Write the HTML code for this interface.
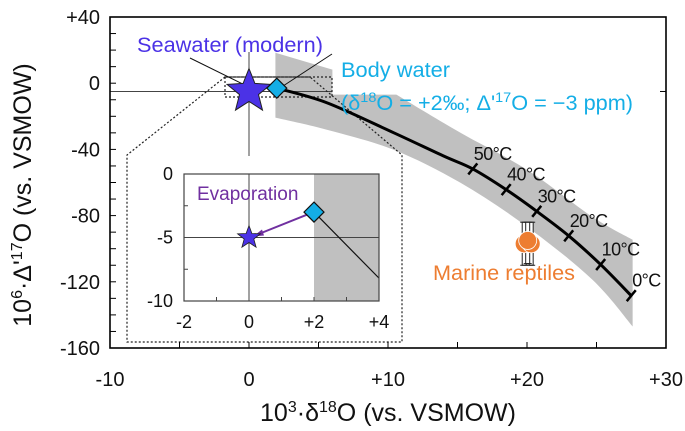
<!DOCTYPE html>
<html><head><meta charset="utf-8">
<style>
html,body{margin:0;padding:0;background:#fff;}
svg{display:block;font-family:"Liberation Sans",Arial,sans-serif;}
</style></head>
<body>
<svg id="chart" width="685" height="431" viewBox="0 0 685 431" xmlns="http://www.w3.org/2000/svg" style="position:absolute;left:0;top:0"></svg>
<script>
// ---- data ----
const xTicks = [-10, 0, 10, 20, 30];
const xTickLabels = ["-10", "0", "+10", "+20", "+30"];
const yTicks = [40, 0, -40, -80, -120, -160];
const yTickLabels = ["+40", "0", "-40", "-80", "-120", "-160"];
const curveX = [2, 5.6, 10.4, 14, 16.1, 18.5, 20.7, 23, 25.3, 27.5];
const curveY = [-3, -11.8, -29.9, -44, -51.8, -64.3, -77.4, -92.2, -109.6, -128.4];
const tempLabels = ["50°C", "40°C", "30°C", "20°C", "10°C", "0°C"];
const tempX = [16.1, 18.5, 20.7, 23, 25.3, 27.5];
const tempY = [-51.8, -64.3, -77.4, -92.2, -109.6, -128.4];
const bandUpperX = [1.9, 6, 6, 10.6, 15.2, 20.0, 24.7, 27.6];
const bandUpperY = [18.4, 8.2, -6.9, -6.9, -29.9, -52.3, -80.7, -94.6];
const bandLowerX = [27.6, 24.7, 20.0, 15.2, 10.4, 5.6, 1.9];
const bandLowerY = [-147, -118.7, -86.7, -60.1, -40.2, -28.1, -20.8];
const seawater = [0, -5];
const bodyWater = [2, -3];
const reptileX = [19.8, 20.3, 20.05];
const reptileY = [-97, -97, -95];
const reptileErrLo = [-110, -110, -109];
const reptileErrHi = [-84, -84, -84];
const insetXTicks = [-2, 0, 2, 4];
const insetXTickLabels = ["-2", "0", "+2", "+4"];
const insetYTicks = [0, -5, -10];
const insetYTickLabels = ["0", "-5", "-10"];

const NS = "http://www.w3.org/2000/svg";
const svg = document.getElementById("chart");
function mk(tag, attrs, parent) {
  const e = document.createElementNS(NS, tag);
  for (const k in attrs) e.setAttribute(k, attrs[k]);
  (parent || svg).appendChild(e);
  return e;
}
const L = 110, R = 666, T = 17, B = 348;
const X = v => L + (v + 10) / 40 * (R - L);
const Y = v => T + (40 - v) / 200 * (B - T);
const iL = 184, iR = 379, iT = 174, iB = 301;
const IX = v => iL + (v + 2) / 6 * (iR - iL);
const IY = v => iT + (0 - v) / 10 * (iB - iT);

function star(cx, cy, ro, ri) {
  let p = [];
  for (let i = 0; i < 10; i++) {
    const r = i % 2 ? ri : ro, a = -Math.PI / 2 + i * Math.PI / 5;
    p.push((cx + r * Math.cos(a)).toFixed(1) + "," + (cy + r * Math.sin(a)).toFixed(1));
  }
  return p.join(" ");
}
function smoothPath(pts) {
  let d = "M" + pts[0][0] + "," + pts[0][1];
  for (let i = 0; i < pts.length - 1; i++) {
    const p0 = pts[i - 1] || pts[i], p1 = pts[i], p2 = pts[i + 1], p3 = pts[i + 2] || p2;
    const c1 = [p1[0] + (p2[0] - p0[0]) / 6, p1[1] + (p2[1] - p0[1]) / 6];
    const c2 = [p2[0] - (p3[0] - p1[0]) / 6, p2[1] - (p3[1] - p1[1]) / 6];
    d += ` C${c1[0]},${c1[1]} ${c2[0]},${c2[1]} ${p2[0]},${p2[1]}`;
  }
  return d;
}

let up = bandUpperX.map((x, i) => [X(x), Y(bandUpperY[i])]);
let lo = bandLowerX.map((x, i) => [X(x), Y(bandLowerY[i])]);
let d = "M" + up[0].join(",") + " L" + up[1].join(",") + " L" + up[2].join(",") + " ";
d += smoothPath(up.slice(3)).replace(/^M/, "L");
d += " L" + lo[0].join(",") + " " + smoothPath(lo).replace(/^M[^C]*/, "") + " Z";
let band = mk("path", {d: d, fill: "#c0c0c0"});



let hl = mk("line", {x1: L, x2: X(6), y1: Y(seawater[1]), y2: Y(seawater[1]), stroke: "#444", "stroke-width": 1});


let vl = mk("line", {x1: X(0), x2: X(0), y1: 52, y2: 157, stroke: "#444", "stroke-width": 1});



let zb = mk("rect", {x: 225, y: 77, width: 107, height: 20, fill: "none", stroke: "#222", "stroke-width": 1.2, "stroke-dasharray": "2,2"});


let zc = mk("polyline", {points: "225,77 127,155 127,342 402,342 402,155 310,77 225,77", fill: "none", stroke: "#222", "stroke-width": 1.2, "stroke-dasharray": "2,2"});


let ibg = mk("rect", {x: 128, y: 156, width: 273, height: 185, fill: "#fff"});



let cpts = curveX.map((x, i) => [X(x), Y(curveY[i])]);
let curve = mk("path", {d: smoothPath(cpts), fill: "none", stroke: "#000", "stroke-width": 3, "stroke-linejoin": "round"});


tempX.forEach((t, i) => {
  const cx = X(t), cy = Y(tempY[i]);
  let tk = mk("line", {x1: cx - 4.5, y1: cy + 5.5, x2: cx + 4.5, y2: cy - 5.5, stroke: "#000", "stroke-width": 2.5});
  
  
  let tl = mk("text", {x: cx + 1, y: cy - 9, "font-size": 18, fill: "#111", "letter-spacing": "-0.6"});
  tl.textContent = tempLabels[i];
  
  
});

reptileX.forEach((x, i) => {
  const cx = X(x);
  let eb = mk("rect", {x: cx - 2, y: Y(reptileErrHi[i]), width: 4, height: Y(reptileErrLo[i]) - Y(reptileErrHi[i]), fill: "#fff", stroke: "#222", "stroke-width": 1});
  
  
  mk("line", {x1: cx - 4, x2: cx + 4, y1: Y(reptileErrHi[i]), y2: Y(reptileErrHi[i]), stroke: "#222"});
  mk("line", {x1: cx - 4, x2: cx + 4, y1: Y(reptileErrLo[i]), y2: Y(reptileErrLo[i]), stroke: "#222"});
});
reptileX.forEach((x, i) => {
  let c = mk("circle", {cx: X(x), cy: Y(reptileY[i]), r: 9, fill: "#ed7d31", stroke: "#fff", "stroke-width": 0.8});
  
  
});

let l1 = mk("line", {x1: 190, y1: 58, x2: 255, y2: 90, stroke: "#111", "stroke-width": 1});


let l2 = mk("line", {x1: 332, y1: 54, x2: 280, y2: 88, stroke: "#111", "stroke-width": 1});



let st = mk("polygon", {points: star(X(seawater[0]), Y(seawater[1]), 23, 10), fill: "#4b32e6", stroke: "#222", "stroke-width": 1});


const dx = X(bodyWater[0]), dy = Y(bodyWater[1]);
let dm = mk("polygon", {points: `${dx},${dy-10} ${dx+10},${dy} ${dx},${dy+10} ${dx-10},${dy}`, fill: "#14aee6", stroke: "#111", "stroke-width": 1.2});



let fr = mk("rect", {x: L, y: T, width: R - L, height: B - T, fill: "none", stroke: "#000", "stroke-width": 1.6});


mk("line", {x1: R - 6, x2: R, y1: Y(-5), y2: Y(-5), stroke: "#000", "stroke-width": 1});
for (let v = -160; v <= 40; v += 10) {
  let t = mk("line", {x1: L, x2: L + 6, y1: Y(v), y2: Y(v), stroke: "#000", "stroke-width": 1});
  
  
}
for (let v = -10; v <= 30; v += 5) {
  let t = mk("line", {x1: X(v), x2: X(v), y1: B, y2: B - 6, stroke: "#000", "stroke-width": 1});
  
  
}
xTicks.forEach((v, i) => {
  let t = mk("text", {x: X(v), y: 386, "font-size": 20, "text-anchor": "middle", fill: "#111"});
  t.textContent = xTickLabels[i];
  
  
});
yTicks.forEach((v, i) => {
  let t = mk("text", {x: 100, y: Y(v) + 7, "font-size": 20, "text-anchor": "end", fill: "#111"});
  t.textContent = yTickLabels[i];
  
  
});

let ig = mk("rect", {x: IX(2), y: iT, width: iR - IX(2), height: iB - iT, fill: "#c0c0c0"});


mk("line", {x1: iL, x2: iR, y1: IY(-5), y2: IY(-5), stroke: "#444", "stroke-width": 1});
mk("line", {x1: IX(0), x2: IX(0), y1: iT, y2: iB, stroke: "#444", "stroke-width": 1});
let il = mk("line", {x1: IX(2), y1: IY(-3), x2: iR, y2: IY(-8.2), stroke: "#111", "stroke-width": 1.2});


let ifr = mk("rect", {x: iL, y: iT, width: iR - iL, height: iB - iT, fill: "none", stroke: "#444", "stroke-width": 1.2});


for (let v = -2; v <= 4; v++) mk("line", {x1: IX(v), x2: IX(v), y1: iB, y2: iB - 4, stroke: "#444"});
for (let v = 0; v >= -10; v -= 2.5) mk("line", {x1: iL, x2: iL + 4, y1: IY(v), y2: IY(v), stroke: "#444"});
insetXTicks.forEach((v, i) => {
  let t = mk("text", {x: IX(v), y: 328, "font-size": 18, "text-anchor": "middle", fill: "#111"});
  t.textContent = insetXTickLabels[i];
  
  
});
insetYTicks.forEach((v, i) => {
  let t = mk("text", {x: 173, y: IY(v) + 6, "font-size": 18, "text-anchor": "end", fill: "#111"});
  t.textContent = insetYTickLabels[i];
  
  
});
let ar = mk("line", {x1: IX(2) - 3, y1: IY(-3) + 1, x2: IX(0) + 6, y2: IY(-5) - 2, stroke: "#7030a0", "stroke-width": 2});


const ax = IX(0) + 4, ay = IY(-5) - 1;
mk("polygon", {points: `${ax},${ay} ${ax+9},${ay-7} ${ax+11},${ay-1}`, fill: "#7030a0"});
let ist = mk("polygon", {points: star(IX(0), IY(-5), 12, 5), fill: "#4b32e6", stroke: "#222", "stroke-width": 0.8});


const ix2 = IX(2), iy2 = IY(-3);
let idm = mk("polygon", {points: `${ix2},${iy2-10} ${ix2+10},${iy2} ${ix2},${iy2+10} ${ix2-10},${iy2}`, fill: "#14aee6", stroke: "#111", "stroke-width": 1.2});


</script>
<svg style="position:absolute;left:0;top:0" width="685" height="431">
  <text x="197" y="200" font-size="19" fill="#7030a0" font-family="Liberation Sans, sans-serif">Evaporation</text>
  <text x="137" y="52" font-size="21" fill="#4b32e6" font-family="Liberation Sans, sans-serif" textLength="186" lengthAdjust="spacingAndGlyphs">Seawater (modern)</text>
  <text x="341" y="77" font-size="21" fill="#14aee6" font-family="Liberation Sans, sans-serif" textLength="109" lengthAdjust="spacingAndGlyphs">Body water</text>
  <text x="341" y="110" font-size="21" fill="#14aee6" font-family="Liberation Sans, sans-serif" textLength="292" lengthAdjust="spacingAndGlyphs">(δ<tspan font-size="14" dy="-8">18</tspan><tspan dy="8">O = +2‰; Δ'</tspan><tspan font-size="14" dy="-8">17</tspan><tspan dy="8">O = −3 ppm)</tspan></text>
  <text x="433" y="280" font-size="21" fill="#ed7d31" font-family="Liberation Sans, sans-serif" textLength="142" lengthAdjust="spacingAndGlyphs">Marine reptiles</text>
  <text x="388" y="421" font-size="25" fill="#111" text-anchor="middle" font-family="Liberation Sans, sans-serif">10<tspan font-size="16" dy="-9">3</tspan><tspan dy="9">·δ</tspan><tspan font-size="16" dy="-9">18</tspan><tspan dy="9">O (vs. VSMOW)</tspan></text>
  <text transform="translate(31,195) rotate(-90)" font-size="25" fill="#111" text-anchor="middle" font-family="Liberation Sans, sans-serif">10<tspan font-size="16" dy="-9">6</tspan><tspan dy="9">·Δ'</tspan><tspan font-size="16" dy="-9">17</tspan><tspan dy="9">O (vs. VSMOW)</tspan></text>
</svg>
</body></html>
